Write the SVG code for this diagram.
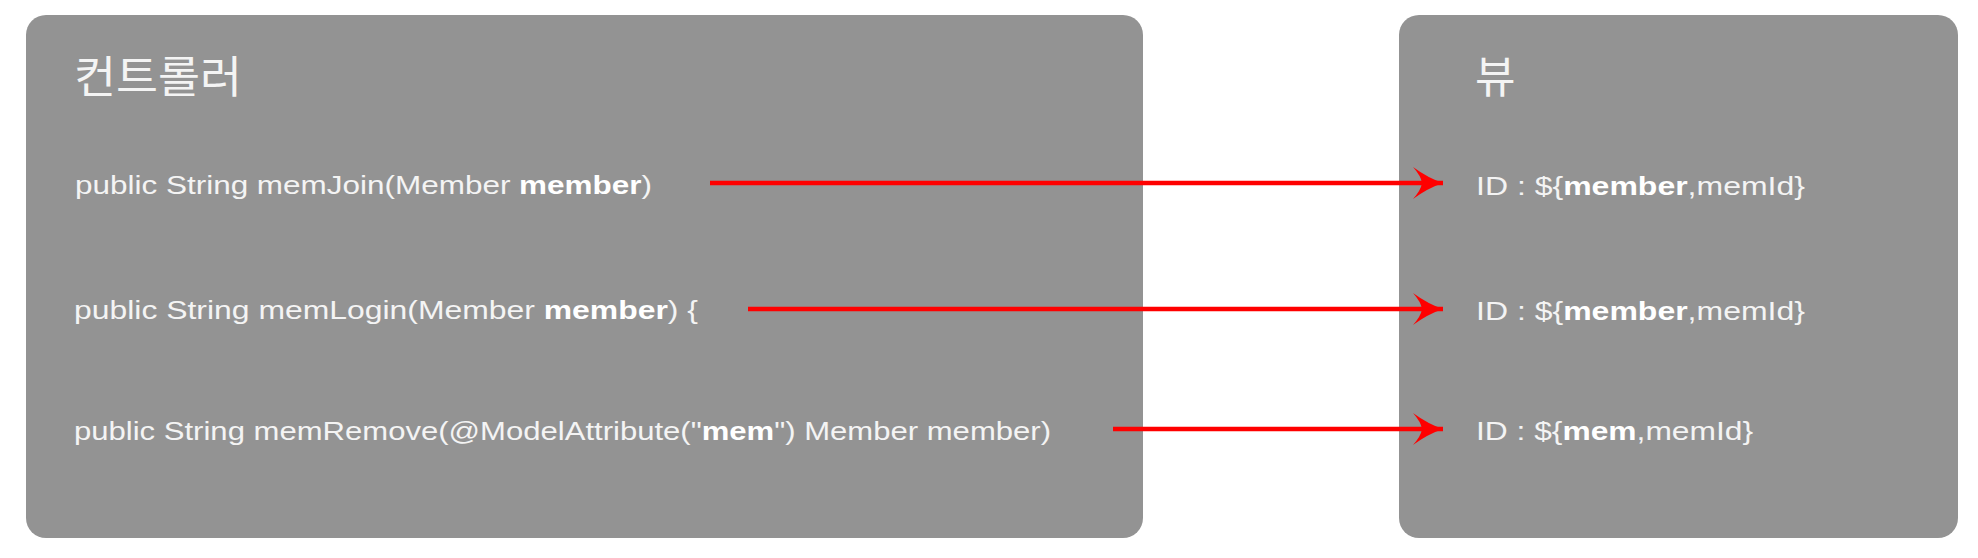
<svg xmlns="http://www.w3.org/2000/svg" width="1978" height="558" viewBox="0 0 1978 558">
<style>
.box{fill:#939393;}
.title{font-family:"Noto Sans CJK KR","Noto Sans",sans-serif;font-size:44px;fill:#f4f4f4;}
.code{font-family:"Liberation Sans",Arial,sans-serif;font-size:26px;fill:#f4f4f4;}
.b{font-weight:bold;fill:#ffffff;}
.conn{stroke:#ff0000;stroke-width:4.5;fill:none;}
</style>
<defs>
<marker id="arrow" markerUnits="userSpaceOnUse" viewBox="-32 -18 34 36" refX="0" refY="0" markerWidth="34" markerHeight="36" orient="auto">
<path d="M0,0 Q-15,-5 -30,-16 Q-22,-7 -21,0 Q-22,7 -30,16 Q-15,5 0,0 Z" fill="#ff0000"/>
</marker>
</defs>
<rect x="0" y="0" width="1978" height="558" fill="#ffffff"/>
<g id="controller">
<rect class="box" x="26" y="15" width="1117" height="523" rx="20" ry="20"/>
<text class="title" x="74" y="93" textLength="168" lengthAdjust="spacingAndGlyphs">컨트롤러</text>
<text class="code" x="75" y="194" textLength="577" lengthAdjust="spacingAndGlyphs">public String memJoin(Member <tspan class="b">member</tspan>)</text>
<text class="code" x="74" y="319" textLength="624" lengthAdjust="spacingAndGlyphs">public String memLogin(Member <tspan class="b">member</tspan>) {</text>
<text class="code" x="74" y="440" textLength="977" lengthAdjust="spacingAndGlyphs">public String memRemove(@ModelAttribute("<tspan class="b">mem</tspan>") Member member)</text>
</g>
<g id="view">
<rect class="box" x="1399" y="15" width="559" height="523" rx="20" ry="20"/>
<text class="title" x="1475" y="93">뷰</text>
<text class="code" x="1476" y="195" textLength="329" lengthAdjust="spacingAndGlyphs">ID : ${<tspan class="b">member</tspan>,memId}</text>
<text class="code" x="1476" y="320" textLength="329" lengthAdjust="spacingAndGlyphs">ID : ${<tspan class="b">member</tspan>,memId}</text>
<text class="code" x="1476" y="440" textLength="277" lengthAdjust="spacingAndGlyphs">ID : ${<tspan class="b">mem</tspan>,memId}</text>
</g>
<g id="connectors">
<line class="conn" x1="710" y1="183" x2="1443" y2="183" marker-end="url(#arrow)"/>
<line class="conn" x1="748" y1="309" x2="1443" y2="309" marker-end="url(#arrow)"/>
<line class="conn" x1="1113" y1="429" x2="1443" y2="429" marker-end="url(#arrow)"/>
</g>
</svg>
